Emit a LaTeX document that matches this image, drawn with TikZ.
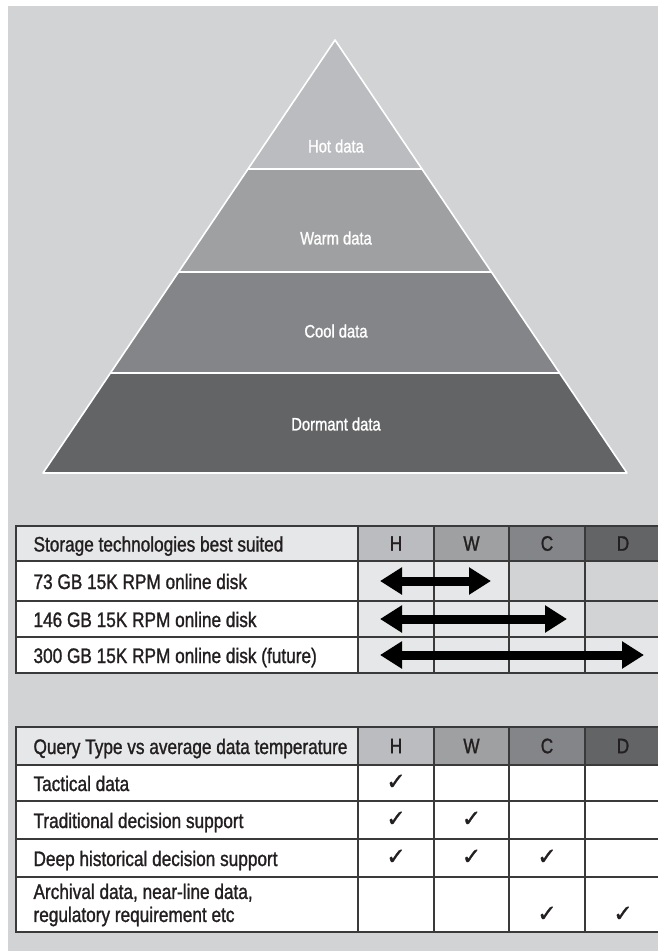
\documentclass[tikz,border=0pt]{standalone}
\usepackage{fontspec}
\setmainfont{Liberation Sans}[FakeStretch=0.82,FakeBold=1.2]
\newfontfamily\tickfont{DejaVu Sans}[FakeBold=1.5]
\usetikzlibrary{arrows.meta,calc}

\definecolor{panel}{HTML}{D2D3D5}
\definecolor{hotgray}{HTML}{BBBCBF}
\definecolor{warmgray}{HTML}{9FA0A2}
\definecolor{coolgray}{HTML}{848588}
\definecolor{dormgray}{HTML}{636466}
\definecolor{lightgray}{HTML}{E6E7E8}
\definecolor{ink}{HTML}{231F20}
\definecolor{rulegray}{HTML}{3A3A3A}

\begin{document}
\begin{tikzpicture}[x=1pt,y=-1pt,
    layer/.style={font=\fontsize{18}{20}\selectfont,text=white},
    cell/.style={font=\fontsize{21}{23}\selectfont,text=ink},
    tick/.style={font=\tickfont\fontsize{23}{24}\selectfont,text=ink},
    grid/.style={rulegray,line width=1.3pt},
    span/.style={line width=9pt,{Triangle[length=22pt,width=26pt]}-{Triangle[length=22pt,width=26pt]}}]
    \useasboundingbox (0,0) rectangle (658,951);
    \clip (0,0) rectangle (658,951);
    \fill [white] (0,0) rectangle (658,951);
    \fill [panel] (8,6) rectangle (658,951);

    % pyramid
    \coordinate (apex) at (335,40);
    \coordinate (bl) at (43,473);
    \coordinate (br) at (627,473);
    \coordinate (l1) at ($(apex)!0.298!(bl)$);
    \coordinate (r1) at ($(apex)!0.298!(br)$);
    \coordinate (l2) at ($(apex)!0.536!(bl)$);
    \coordinate (r2) at ($(apex)!0.536!(br)$);
    \coordinate (l3) at ($(apex)!0.769!(bl)$);
    \coordinate (r3) at ($(apex)!0.769!(br)$);
    \fill [hotgray] (apex)--(r1)--(l1)--cycle;
    \fill [warmgray] (l1)--(r1)--(r2)--(l2)--cycle;
    \fill [coolgray] (l2)--(r2)--(r3)--(l3)--cycle;
    \fill [dormgray] (l3)--(r3)--(br)--(bl)--cycle;
    \draw [white,line width=1.6pt,line join=round] (apex)--(br)--(bl)--cycle;
    \draw [white,line width=2.6pt] (l1)--(r1) (l2)--(r2) (l3)--(r3);

    \node [layer] (hot) at (336,146) {Hot data};
    \node [layer] (warm) at (336,238) {Warm data};
    \node [layer] (cool) at (336,331) {Cool data};
    \node [layer] (dormant) at (336,424) {Dormant data};

    % storage table
    \fill [lightgray] (16,526) rectangle (358,561);
    \fill [hotgray] (358,526) rectangle (434,561);
    \fill [warmgray] (434,526) rectangle (509,561);
    \fill [coolgray] (509,526) rectangle (585,561);
    \fill [dormgray] (585,526) rectangle (662,561);
    \fill [white] (16,561) rectangle (358,673);
    \fill [lightgray] (358,561) rectangle (662,673);
    \fill [panel] (509,561) rectangle (662,601);
    \fill [panel] (585,601) rectangle (662,637);
    \draw [grid] (16,526) rectangle (662,673);
    \foreach \y in {561,601,637} \draw [grid] (16,\y)--(662,\y);
    \foreach \x in {358,434,509,585} \draw [grid] (\x,526)--(\x,673);

    \node [cell,anchor=base west] (stitle) at (30,551.5) {Storage technologies best suited};
    \node [cell,anchor=base west] (disk1) at (30,589) {73 GB 15K RPM online disk};
    \node [cell,anchor=base west] (disk2) at (30,627) {146 GB 15K RPM online disk};
    \node [cell,anchor=base west] (disk3) at (30,663) {300 GB 15K RPM online disk (future)};
    \foreach \x/\t in {396/H,471.5/W,547/C,623/D}
        \node [cell] (s\t) at (\x,543.5) {\t};

    \coordinate (a1l) at (380,581);
    \coordinate (a1r) at (491,581);
    \coordinate (a2l) at (380,619);
    \coordinate (a2r) at (567,619);
    \coordinate (a3l) at (380,655);
    \coordinate (a3r) at (644,655);
    \draw [span] (a1l)--(a1r);
    \draw [span] (a2l)--(a2r);
    \draw [span] (a3l)--(a3r);

    % query table
    \fill [lightgray] (16,727) rectangle (358,765);
    \fill [hotgray] (358,727) rectangle (434,765);
    \fill [warmgray] (434,727) rectangle (509,765);
    \fill [coolgray] (509,727) rectangle (585,765);
    \fill [dormgray] (585,727) rectangle (662,765);
    \fill [white] (16,765) rectangle (662,932);
    \draw [grid] (16,727) rectangle (662,932);
    \foreach \y in {765,801,839,877} \draw [grid] (16,\y)--(662,\y);
    \foreach \x in {358,434,509,585} \draw [grid] (\x,727)--(\x,932);

    \node [cell,anchor=base west] (qtitle) at (30,754) {Query Type vs average data temperature};
    \node [cell,anchor=base west] (tactical) at (30,791) {Tactical data};
    \node [cell,anchor=base west] (traditional) at (30,828) {Traditional decision support};
    \node [cell,anchor=base west] (deep) at (30,866) {Deep historical decision support};
    \node [cell,anchor=west,align=left] (archival) at (30,905) {Archival data, near-line data,\\regulatory requirement etc};
    \foreach \x/\t in {396/H,471.5/W,547/C,623/D}
        \node [cell] (q\t) at (\x,746) {\t};

    \node [tick] (t1h) at (396,782) {✓};
    \node [tick] (t2h) at (396,819) {✓};
    \node [tick] (t2w) at (471.5,819) {✓};
    \node [tick] (t3h) at (396,857) {✓};
    \node [tick] (t3w) at (471.5,857) {✓};
    \node [tick] (t3c) at (547,857) {✓};
    \node [tick] (t4c) at (547,914) {✓};
    \node [tick] (t4d) at (623,914) {✓};
\end{tikzpicture}
\end{document}
